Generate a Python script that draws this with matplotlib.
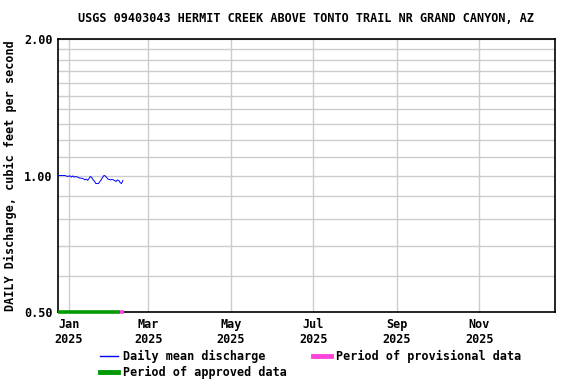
import datetime as dt

import matplotlib
matplotlib.use("Agg")
import matplotlib.dates as mdates
import matplotlib.pyplot as plt
from matplotlib.lines import Line2D
from matplotlib.ticker import FixedLocator, NullFormatter

TITLE = "USGS 09403043 HERMIT CREEK ABOVE TONTO TRAIL NR GRAND CANYON, AZ"
YLABEL = "DAILY Discharge, cubic feet per second"

start_day = dt.date(2024, 12, 24)
discharge = [
    1.00, 1.00, 1.00, 1.00, 1.00, 1.00, 0.998, 0.995, 0.997, 0.998,
    0.992, 0.998, 0.992, 0.995, 0.993, 0.990, 0.987, 0.987, 0.985, 0.983,
    0.978, 0.982, 0.976, 0.985, 0.995, 0.990, 0.978, 0.972, 0.960, 0.960,
    0.960, 0.970, 0.978, 0.990, 1.00, 0.998, 0.990, 0.982, 0.980, 0.978,
    0.980, 0.978, 0.975, 0.970, 0.978, 0.975, 0.965, 0.960, 0.975,
]
days = [start_day + dt.timedelta(days=i) for i in range(len(discharge))]

approved_period = (dt.date(2024, 12, 24), dt.date(2025, 2, 8))
provisional_period = (dt.date(2025, 2, 8), dt.date(2025, 2, 11))

x_range = (dt.date(2024, 12, 24), dt.date(2025, 12, 27))
y_major = [0.5, 1.0, 2.0]
y_minor = [0.6, 0.7, 0.8, 0.9, 1.1, 1.2, 1.3, 1.4, 1.5, 1.6, 1.7, 1.8, 1.9]
x_ticks = [dt.date(2025, m, 1) for m in (1, 3, 5, 7, 9, 11)]

FS = 8.45
plt.rcParams["font.family"] = "DejaVu Sans Mono"
plt.rcParams["font.weight"] = "bold"
plt.rcParams["font.size"] = FS

fig = plt.figure(figsize=(5.76, 3.84), dpi=100)
ax = fig.add_axes([0.1007, 0.1875, 0.8628, 0.7109])

ax.set_yscale("log")
ax.set_ylim(0.5, 2.0)
ax.set_xlim(*x_range)

ax.yaxis.set_major_locator(FixedLocator(y_major))
ax.yaxis.set_minor_locator(FixedLocator(y_minor))
ax.set_yticklabels([f"{v:.2f}" for v in y_major])
ax.yaxis.set_minor_formatter(NullFormatter())

ax.set_xticks(x_ticks)
ax.xaxis.set_major_formatter(mdates.DateFormatter("%b\n%Y"))

ax.grid(True, which="both", color="#cccccc", linewidth=1.0)
ax.set_axisbelow(True)
ax.tick_params(which="both", length=0, pad=4)
for s in ax.spines.values():
    s.set_linewidth(1.2)

ax.plot(days, discharge, color="#0000ff", linewidth=0.7, zorder=3)
ax.plot(approved_period, [0.5, 0.5], color="#009900", linewidth=2.6,
        solid_capstyle="butt", clip_on=False, zorder=4)
ax.plot(provisional_period, [0.5, 0.5], color="#ff44dd", linewidth=2.6,
        solid_capstyle="butt", clip_on=False, zorder=4)

ax.set_title(TITLE, fontsize=FS, fontweight="bold", pad=12)
ax.set_ylabel(YLABEL, fontsize=FS, fontweight="bold", labelpad=5)

handles = [
    Line2D([], [], color="#0000ff", linewidth=1.0),
    Line2D([], [], color="#009900", linewidth=3.5),
    Line2D([], [], color="#ff44dd", linewidth=3.5),
]
labels = ["Daily mean discharge", "Period of approved data", "Period of provisional data"]
fig.legend(handles, labels, ncol=2, loc="upper left", bbox_to_anchor=(0.1736, 0.0895),
           frameon=False, handlelength=1.56, handletextpad=0.43, columnspacing=2.2,
           labelspacing=0.25, borderaxespad=0, borderpad=0)

fig.savefig("out.png", dpi=100)
